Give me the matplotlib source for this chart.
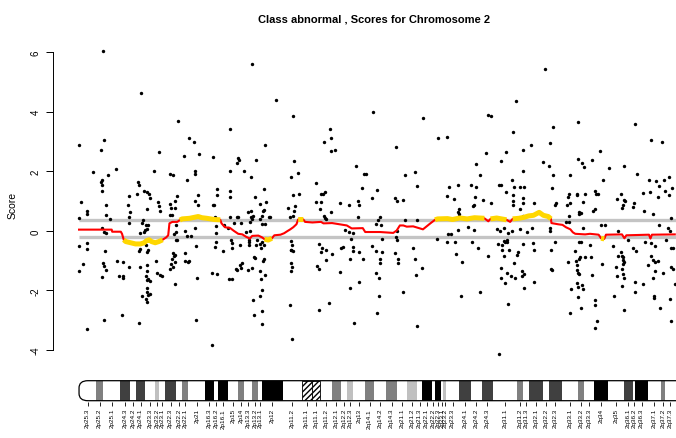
import numpy as np
import matplotlib
matplotlib.use("Agg")
import matplotlib.pyplot as plt
from matplotlib.patches import Rectangle, FancyBboxPatch

plt.rcParams['font.family'] = ['Liberation Sans', 'DejaVu Sans']

# ================================
# DATA (positions in Mb, scores)
# ================================
pos = [
    9.9, 25.1, 40.4, 0.0, 10.0, 8.8, 44.8, 46.8, 32.6, 42.7, 49.0, 54.4, 5.6, 15.2, 9.3, 9.5, 8.8, 9.5,
    11.8, 30.4, 37.0, 38.4, 47.0, 47.1, 44.1, 24.2, 24.5, 26.6, 27.8, 28.5, 29.0, 20.5, 23.7, 40.0,
    48.3, 47.2, 48.6, 56.3, 56.0, 54.9, 54.4, 0.6, 11.1, 3.4, 3.4, 20.1, 20.8, 20.5, 32.3, 32.6, 33.0,
    27.8, 37.0, 37.5, 37.9, 36.9, 39.0, 39.2, 11.0, 12.8, 0.0, 20.4, 25.5, 26.1, 55.5, 59.2, 9.5, 10.3,
    11.0, 25.0, 26.3, 26.9, 27.6, 27.2, 28.1, 39.5, 39.6, 38.7, 43.2, 43.8, 47.2, 55.6, 55.6, 55.6,
    55.4, 39.4, 40.0, 45.5, 0.1, 3.1, 3.4, 10.5, 27.3, 28.0, 27.7, 25.0, 24.4, 38.1, 39.2, 38.5, 47.8,
    43.0, 58.6, 15.5, 9.6, 10.3, 11.0, 9.5, 1.5, 20.2, 17.9, 16.3, 17.8, 17.9, 0.0, 25.0, 27.6, 27.7,
    27.4, 27.6, 28.0, 29.0, 31.5, 31.9, 33.0, 33.9, 37.7, 37.0, 38.3, 39.2, 37.3, 43.3, 44.4, 44.6,
    39.1, 54.3, 56.2, 48.2, 27.7, 27.6, 28.0, 25.6, 27.3, 27.6, 29.0, 17.6, 10.0, 24.3, 47.8, 3.3, 54.3,
    70.5, 80.2, 87.2, 119.6, 61.6, 102.3, 102.6, 99.8, 102.6, 104.0, 75.5, 64.8, 65.2, 64.4, 71.9,
    61.3, 67.0, 69.9, 87.4, 86.4, 89.0, 96.3, 112.6, 116.1, 116.8, 115.2, 121.4, 119.4, 61.4, 61.3,
    75.1, 71.7, 76.2, 73.8, 75.3, 86.9, 89.4, 87.8, 85.2, 87.5, 86.0, 86.9, 98.3, 99.4, 100.1, 96.4,
    98.3, 97.9, 106.1, 109.9, 113.7, 114.1, 113.5, 102.6, 99.6, 100.1, 100.7, 68.6, 70.1, 70.7, 70.1,
    70.5, 69.6, 67.9, 69.7, 64.8, 64.4, 65.8, 63.2, 61.4, 60.8, 74.7, 74.6, 73.5, 74.6, 75.5, 77.9,
    77.2, 122.7, 121.7, 120.9, 122.9, 109.9, 111.4, 108.1, 110.7, 61.7, 62.4, 62.4, 65.5, 69.0, 69.0,
    69.3, 72.2, 72.4, 73.5, 74.6, 75.3, 74.1, 86.1, 86.5, 86.4, 86.9, 86.1, 97.8, 99.0, 98.3, 100.4,
    100.5, 102.8, 106.6, 107.3, 111.6, 111.5, 114.1, 115.4, 110.3, 119.1, 120.9, 123.2, 122.4, 122.4,
    66.2, 65.5, 63.9, 64.3, 65.9, 68.6, 70.3, 71.1, 71.7, 75.3, 74.7, 73.6, 75.5, 73.9, 60.9, 62.4,
    86.3, 86.8, 86.3, 96.9, 97.5, 106.4, 110.3, 114.1, 120.9, 122.0, 122.2, 121.3, 74.5, 73.8, 70.8,
    71.2, 74.5, 74.6, 85.9, 86.8, 101.7, 97.7, 112.1,
    178.0, 140.1, 166.6, 167.7, 146.2, 149.8, 176.5, 128.9, 180.7, 173.7, 165.7, 171.6, 161.4, 163.1,
    132.7, 136.7, 137.4, 180.6, 176.1, 177.1, 179.4, 181.1, 171.6, 171.1, 173.8, 176.5, 150.7, 154.4,
    159.5, 161.7, 152.5, 149.9, 161.3, 160.6, 160.2, 164.4, 167.8, 128.6, 129.3, 131.9, 154.5, 154.1,
    154.8, 176.5, 176.6, 180.7, 180.9, 179.4, 180.7, 137.7, 132.7, 129.4, 154.1, 158.5, 160.6, 170.0,
    171.4, 173.0, 174.7, 176.1, 179.5, 123.3, 129.0, 129.3, 145.8, 150.0, 151.5, 149.9, 153.2, 159.8,
    162.3, 170.5, 172.0, 173.0, 173.5, 174.1, 174.3, 172.3, 175.2, 180.6, 128.6, 129.7, 130.0, 135.9,
    136.9, 139.7, 137.3, 153.4, 155.9, 166.6, 172.8, 178.4, 178.5, 171.9, 171.8, 173.5, 174.1, 175.7,
    177.3, 176.9, 180.4, 181.0, 180.4, 181.0, 132.0, 155.5, 163.3, 174.6, 137.4, 170.9,
    189.6, 203.2, 226.3, 192.8, 184.1, 191.9, 232.8, 237.3, 189.0, 191.4, 203.3, 204.7, 205.5, 208.8,
    212.0, 193.0, 192.6, 200.0, 215.8, 221.9, 227.1, 240.0, 241.2, 213.1, 232.1, 234.8, 236.2, 238.3,
    238.5, 240.2, 229.5, 232.4, 235.6, 199.3, 199.1, 202.7, 202.9, 205.8, 210.0, 210.4, 211.1, 199.8,
    198.5, 194.2, 193.7, 205.0, 209.4, 209.9, 203.5, 204.3, 203.6, 199.5, 198.2, 199.4, 218.8, 220.8,
    221.7, 222.2, 221.3, 221.0, 226.0, 225.3, 229.9, 233.5, 241.1, 236.2, 185.2, 184.2, 182.2, 184.9,
    185.3, 192.1, 191.9, 191.8, 193.6, 192.1, 192.6, 185.3, 205.2, 203.6, 204.3, 207.9, 212.6, 213.9,
    201.7, 199.0, 202.3, 203.6, 204.0, 205.9, 208.6, 213.0, 208.8, 202.9, 202.5, 203.5, 203.1, 202.8,
    203.3, 204.6, 205.2, 203.3, 200.1, 204.4, 199.8, 217.5, 219.5, 219.2, 220.6, 221.0, 221.4, 221.3,
    221.8, 221.3, 221.1, 221.3, 221.8, 221.1, 218.5, 218.9, 217.9, 221.8, 210.1, 210.1, 210.7, 210.1,
    223.3, 225.3, 226.7, 229.7, 226.4, 226.4, 230.2, 232.9, 234.5, 232.8, 233.7, 234.5, 235.8, 231.7,
    234.3, 237.8, 233.6, 233.9, 234.1, 236.6, 240.4, 240.9, 238.9, 241.1, 241.6, 241.1, 241.7, 242.4,
    239.8, 240.5,
]
score = [
    6.02, 4.62, 3.67, 2.89, 3.06, 2.72, 3.10, 2.99, 2.65, 2.51, 2.58, 2.46, 1.96, 2.07, 1.72, 1.55, 1.64, 1.33,
    1.87, 2.00, 1.91, 1.87, 1.99, 1.92, 1.72, 1.63, 1.55, 1.35, 1.30, 1.23, 1.11, 1.16, 1.23, 1.16,
    1.21, 0.99, 0.88, 1.41, 1.19, 0.88, 0.85, 0.96, 0.87, 0.68, 0.57, 0.88, 0.63, 0.48, 0.97, 0.82, 0.65,
    0.74, 0.91, 0.78, 0.54, 0.53, 1.00, 0.78, 0.54, 0.41, 0.43, 0.27, 0.25, 0.36, 0.48, 0.18, 0.11, -0.04,
    -0.06, -0.06, -0.04, 0.02, 0.07, 0.18, 0.18, 0.18, -0.04, -0.12, -0.02, -0.17, 0.11, 0.16, -0.08, -0.37,
    -0.54, -0.30, -0.30, -0.17, -0.51, -0.41, -0.60, -0.69, -0.49, -0.63, -0.72, -0.62, -0.68, -0.73, -0.81, -0.84, -0.50,
    -0.75, -0.67, -1.02, -1.07, -1.17, -1.32, -1.55, -1.11, -1.23, -1.05, -1.52, -1.53, -1.59, -1.36, -1.23, -1.16, -1.35,
    -1.50, -1.66, -1.63, -1.68, -1.02, -1.41, -1.48, -1.52, -0.94, -1.28, -1.20, -1.04, -1.11, -1.00, -1.06, -1.00,
    -1.80, -1.42, -1.45, -1.57, -1.92, -2.06, -2.15, -2.20, -2.28, -2.39, -2.11, -2.82, -2.98, -3.09, -2.99, -3.30, -3.83,
    5.59, 4.38, 3.85, 3.97, 3.43, 3.42, 3.10, 2.99, 2.67, 2.71, 2.89, 2.44, 2.36, 2.26, 2.38,
    2.01, 2.02, 1.82, 2.34, 1.79, 1.94, 1.61, 2.18, 1.89, 1.89, 1.43, 1.38, 1.09, 1.33, 1.15,
    1.39, 1.13, 0.98, 0.89, 0.70, 1.19, 1.22, 0.83, 0.75, 0.67, 0.47, 0.51, 1.23, 1.24, 1.29, 0.96,
    0.97, 0.73, 0.93, 0.86, 1.01, 0.86, 0.45, 0.63, 0.50, 0.44, 0.40, 0.63, 0.65, 0.51, 0.45,
    0.40, 0.29, -0.03, -0.02, 0.46, 0.48, 0.26, 0.25, 0.48, 0.09, 0.65, 0.51, 0.38, 0.23, 0.23, 0.48,
    0.48, 0.48, 0.35, 0.22, 0.20, -0.04, -0.06, 0.04, -0.27, -0.31, -0.40, -0.59, -0.48, -0.49, -0.38,
    -0.30, -0.49, -0.31, -0.45, -0.37, -0.47, -0.56, -0.34, -0.49, -0.64, -0.67, -0.65, -0.43, -0.56, -0.72, -0.64,
    -0.98, -0.77, -0.58, -0.55, -0.55, -0.69, -0.72, -0.96, -0.94, -0.51, -0.67, -0.72, -1.07, -0.96,
    -1.08, -1.16, -1.28, -1.33, -1.24, -1.30, -1.25, -0.89, -0.91, -0.96, -1.02, -1.34, -1.47, -1.61, -1.60, -1.61,
    -1.07, -1.22, -1.36, -1.19, -1.28, -1.39, -1.92, -1.73, -1.43, -1.59, -2.17, -2.76, -2.00, -2.19, -2.32,
    -2.84, -2.68, -3.13, -2.49, -3.64, -2.43, -2.65, -3.08,
    4.34, 3.78, 3.89, 3.86, 3.11, 3.15, 3.32, 2.80, 2.70, 2.66, 2.60, 2.34, 2.23, 1.88,
    1.88, 1.96, 1.49, 2.00, 1.72, 1.47, 1.47, 1.47, 1.54, 1.55, 1.31, 1.20, 1.48, 1.55,
    1.54, 1.47, 1.06, 1.16, 1.12, 0.88, 0.83, 1.05, 0.92, 1.10, 1.01, 1.02, 0.72, 0.63,
    0.55, 1.01, 0.87, 1.10, 0.94, 0.72, 0.49, 0.35, 0.35, -0.02, 0.03, 0.12, 0.03, 0.07,
    -0.02, 0.09, -0.08, -0.01, 0.07, -0.29, -0.20, -0.32, -0.28, -0.10, -0.10, -0.37, -0.37, -0.39,
    -0.57, -0.43, -0.48, -0.35, -0.36, -0.32, -0.39, -0.64, -0.66, -0.43, -0.76, -0.95, -1.08, -0.57,
    -0.94, -1.26, -1.47, -0.79, -1.05, -0.83, -0.84, -0.82, -0.72, -1.25, -1.57, -1.74, -1.41, -1.53,
    -1.57, -1.08, -1.34, -1.44, -1.51, -1.92, -2.06, -2.17, -2.06, -2.47, -3.18, -4.14,
    5.44, 3.65, 3.58, 3.49, 2.89, 2.95, 3.04, 2.99, 2.32, 2.16, 2.40, 2.26, 2.15, 2.38,
    2.68, 1.88, 1.45, 1.86, 2.11, 2.17, 1.91, 1.82, 1.44, 1.70, 1.70, 1.66, 1.52, 1.69,
    1.32, 1.19, 1.28, 1.29, 1.13, 1.25, 1.15, 1.19, 1.22, 1.24, 1.33, 1.23, 1.22, 0.93,
    0.88, 0.92, 0.87, 0.97, 0.68, 0.74, 0.62, 0.59, 0.55, 0.50, 0.28, 0.28, 1.07, 1.23,
    1.05, 1.01, 0.85, 0.77, 0.94, 0.81, 0.66, 0.55, 0.43, 0.20, 0.93, 0.09, -0.04, -0.40,
    -0.64, -0.65, 0.09, -0.02, -0.36, -1.28, -1.31, -1.73, 0.10, -0.38, -0.38, -0.47, 0.20, 0.20,
    -0.67, -1.03, -1.00, -0.96, -0.88, -0.89, -0.88, -1.12, -1.49, -1.16, -1.30, -1.44, -1.42, -1.76,
    -1.90, -1.83, -1.95, -2.21, -1.95, -2.60, -2.75, -0.51, -0.02, -0.83, -0.72, -0.83, -0.97, -0.89,
    -1.03, -1.12, -1.27, -1.45, -1.57, -1.86, -1.23, -1.50, -2.18, -2.65, -2.32, -2.49, -3.01, -3.26,
    -0.31, -0.56, -0.69, -1.77, -1.72, -2.06, -0.38, -0.40, -0.51, -0.83, -0.97, -1.03, -1.02, -1.13,
    -1.35, -1.40, -1.57, -2.17, -2.25, -2.60, -2.28, -3.04, -0.32, -0.57, -0.57, -1.23, -1.28, -1.78,
    0.09, -0.02,
]

# smoothed score along the chromosome
smooth_pos = [0, 13.3, 13.5, 17.0, 17.5, 18.2, 19, 21, 23, 25, 26.5, 27.5, 28.5, 29.5, 31, 32.5, 34,
              35.5, 36.3, 36.8, 38, 40, 41, 42, 45, 48.5, 50, 52, 55, 57.5, 58, 59.4, 61.4, 63, 64.8,
              66.5, 68, 69.5, 70.5, 73, 74.5, 75.5, 77, 78.5, 79.5, 82, 83.5, 85, 86, 87.2, 88.5, 89.2,
              91.3, 92, 95, 98.5, 99.5, 103, 106, 109, 111, 115.5, 116.5, 122.5, 127.9, 129.3, 130.6,
              132, 133.4, 136, 138, 140, 141.5, 143, 144.9, 146, 150, 152, 155, 158, 161, 165, 166.6,
              167.5, 170, 172, 174, 175.5, 176.5, 179, 181, 183, 185, 187.3, 189, 191, 192.1, 192.3,
              195, 196.8, 198.2, 200, 201, 202, 206, 208, 211.5, 212.5, 213.8, 214.5, 221, 222, 222.8,
              232, 232.6, 233.2, 242.5]
smooth_val = [0.04, 0.04, -0.03, -0.03, -0.10, -0.30, -0.36, -0.40, -0.44, -0.44, -0.40, -0.33, -0.30,
              -0.36, -0.40, -0.36, -0.30, -0.22, -0.15, 0.25, 0.30, 0.30, 0.36, 0.40, 0.42, 0.48, 0.44,
              0.42, 0.38, 0.37, 0.25, 0.12, 0.10, 0.0, -0.10, -0.12, -0.20, -0.26, -0.17, -0.16, -0.22,
              -0.28, -0.31, -0.25, -0.15, -0.13, -0.08, 0.0, 0.05, 0.12, 0.22, 0.38, 0.38, 0.30, 0.28,
              0.30, 0.25, 0.26, 0.22, 0.18, 0.08, 0.09, -0.04, -0.04, -0.07, 0.01, 0.18, 0.18, 0.14,
              0.15, 0.10, 0.05, 0.15, 0.25, 0.37, 0.40, 0.41, 0.38, 0.43, 0.40, 0.44, 0.42, 0.32, 0.40,
              0.43, 0.40, 0.37, 0.30, 0.40, 0.42, 0.45, 0.50, 0.52, 0.62, 0.52, 0.48, 0.40, 0.26, 0.22,
              0.20, 0.12, 0.05, -0.05, -0.10, -0.12, -0.10, -0.13, -0.25, -0.27, -0.13, -0.12, -0.25,
              -0.15, -0.13, -0.26, -0.13, -0.12]

upper_cut = 0.35
lower_cut = -0.22
chrom_end = 243.0

# ideogram bands (start, end, stain, name)
band_name = ['2p25.3', '2p25.2', '2p25.1', '2p24.3', '2p24.2', '2p24.1', '2p23.3', '2p23.2', '2p23.1',
             '2p22.3', '2p22.2', '2p22.1', '2p21', '2p16.3', '2p16.2', '2p16.1', '2p15', '2p14',
             '2p13.3', '2p13.2', '2p13.1', '2p12', '2p11.2', '2p11.1', '2q11.1', '2q11.2', '2q12.1',
             '2q12.2', '2q12.3', '2q13', '2q14.1', '2q14.2', '2q14.3', '2q21.1', '2q21.2', '2q21.3',
             '2q22.1', '2q22.2', '2q22.3', '2q23.1', '2q23.2', '2q23.3', '2q24.1', '2q24.2', '2q24.3',
             '2q31.1', '2q31.2', '2q31.3', '2q32.1', '2q32.2', '2q32.3', '2q33.1', '2q33.2', '2q33.3',
             '2q34', '2q35', '2q36.1', '2q36.2', '2q36.3', '2q37.1', '2q37.2', '2q37.3']
band_start = [0, 6.9, 9.9, 16.7, 20.8, 23.2, 26.9, 30.9, 32.7, 35.0, 39.5, 41.8, 44.5, 51.3, 54.9,
              56.7, 60.8, 64.6, 67.3, 70.5, 73.0, 74.6, 82.9, 90.6, 94.7, 98.1, 102.8, 106.6, 109.2,
              111.6, 116.4, 120.1, 124.9, 129.5, 133.3, 137.7, 139.5, 143.5, 144.9, 147.2, 148.3,
              149.4, 154.8, 159.4, 163.9, 168.6, 178.1, 180.8, 183.2, 188.7, 191.4, 196.4, 203.2,
              205.5, 209.7, 215.4, 221.9, 225.3, 226.3, 231.7, 236.7, 238.5]
band_end = band_start[1:] + [chrom_end]
band_stain = ['gneg', 'gpos50', 'gneg', 'gpos75', 'gneg', 'gpos75', 'gneg', 'gpos25', 'gneg',
              'gpos75', 'gneg', 'gpos50', 'gneg', 'gpos100', 'gneg', 'gpos100', 'gneg', 'gpos50',
              'gneg', 'gpos50', 'gneg', 'gpos100', 'gneg', 'acen', 'acen', 'gneg', 'gpos50',
              'gneg', 'gpos25', 'gneg', 'gpos50', 'gneg', 'gpos50', 'gneg', 'gpos25', 'gneg',
              'gpos100', 'gneg', 'gpos100', 'gneg', 'gpos25', 'gneg', 'gpos75', 'gneg', 'gpos75',
              'gneg', 'gpos50', 'gneg', 'gpos75', 'gneg', 'gpos75', 'gneg', 'gpos50', 'gneg',
              'gpos100', 'gneg', 'gpos75', 'gneg', 'gpos100', 'gneg', 'gpos50', 'gneg']
stain_colors = {'gneg': 'white', 'gpos25': '#C0C0C0', 'gpos50': '#808080',
                'gpos75': '#404040', 'gpos100': 'black', 'acen': 'white'}

# ================
# FIGURE
# ================
W, H = 676, 439
fig = plt.figure(figsize=(W / 100, H / 100), dpi=100)

ax = fig.add_axes([53 / W, 76 / H, 623 / W, 319 / H])
ax.set_xlim(-10.6, 243.0)
ax.set_ylim(-4.4, 6.3)

ax.hlines([upper_cut, lower_cut], 0, chrom_end, color='#C4C4C4', lw=2.4, zorder=1)
ax.scatter(pos, score, s=6, color='black', linewidths=0, zorder=2)

sp = np.array(smooth_pos)
sv = np.array(smooth_val)
ax.plot(sp, sv, color='red', lw=1.5, zorder=3)
outside = (sv > upper_cut) | (sv < lower_cut)
ax.plot(sp, np.ma.masked_where(~outside, sv), color='#FFD700', lw=3.6,
        solid_capstyle='butt', zorder=4)

for side in ['top', 'right', 'bottom']:
    ax.spines[side].set_visible(False)
ax.spines['left'].set_bounds(-4, 6)
ax.spines['left'].set_linewidth(0.7)
ax.set_xticks([])
ax.set_yticks([-4, -2, 0, 2, 4, 6])
ax.set_yticklabels(['-4', '-2', '0', '2', '4', '6'], rotation=90, va='center')
ax.tick_params(axis='y', length=5, width=0.7, labelsize=7, pad=4)

fig.text(13 / W, 1 - 205 / H, 'Score', rotation=90, ha='center', va='center', fontsize=7.5)
fig.text(374 / W, 1 - 19 / H, 'Class abnormal , Scores for Chromosome 2',
         ha='center', va='center', fontsize=8, fontweight='bold')

# ideogram
ax2 = fig.add_axes([53 / W, 36.3 / H, 623 / W, 22 / H])
ax2.set_xlim(-10.6, 243.0)
ax2.set_ylim(-0.05, 1.05)
outline = FancyBboxPatch((0, 0), chrom_end + 6, 1, boxstyle='round,pad=0,rounding_size=3.6',
                         mutation_aspect=0.1, facecolor='none', edgecolor='black', lw=0.9,
                         zorder=5)
ax2.add_patch(outline)
for s, e, st in zip(band_start, band_end, band_stain):
    if st == 'acen':
        r = Rectangle((s, 0), e - s, 1, facecolor='white', edgecolor='black', lw=0.6,
                      hatch='//////', zorder=2)
    else:
        r = Rectangle((s, 0), e - s, 1, facecolor=stain_colors[st], edgecolor='none', zorder=1)
    ax2.add_patch(r)
    r.set_clip_path(outline)

centers = [(s + e) / 2 for s, e in zip(band_start, band_end)]
ax2.set_xticks(centers)
ax2.set_xticklabels(band_name, rotation=90, fontsize=4.6)
ax2.tick_params(axis='x', length=3, width=0.6, pad=1.5)
ax2.set_yticks([])
for side in ax2.spines:
    ax2.spines[side].set_visible(False)

fig.savefig('out.png', dpi=100)
